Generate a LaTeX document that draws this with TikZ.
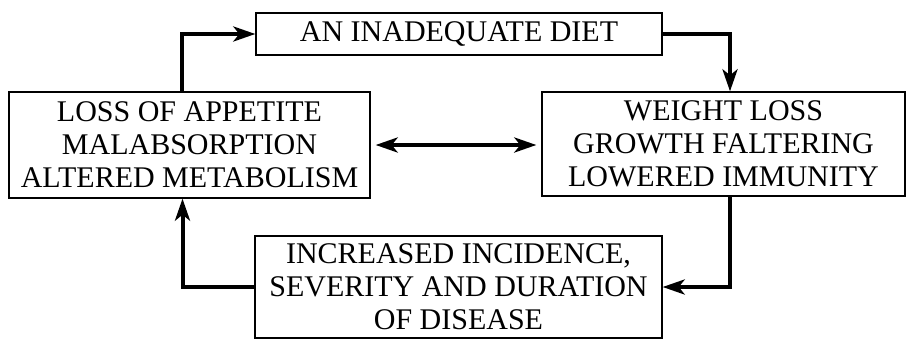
\documentclass[tikz,border=0pt]{standalone}
\usepackage{fontspec}
\setmainfont{Liberation Serif}
\usetikzlibrary{arrows.meta}
\begin{document}
\begin{tikzpicture}[x=1pt,y=-1pt,
  box/.style={draw, line width=1.3pt, align=center, inner sep=0pt,
    font=\fontsize{30}{33}\selectfont},
  tip/.style={Stealth[length=22pt,width=15pt,inset=6pt]},
  arr/.style={line width=4pt, -{Stealth[length=22pt,width=15pt,inset=6pt]}},
  darr/.style={line width=4pt, {Stealth[length=22pt,width=15pt,inset=6pt]}-{Stealth[length=22pt,width=15pt,inset=6pt]}, shorten <=5pt, shorten >=5pt}]
\useasboundingbox (0,0) rectangle (910,340);
\node[box, minimum width=406pt, minimum height=42pt] (T) at (459,34) {AN INADEQUATE DIET};
\node[box, minimum width=361pt, minimum height=106pt] (L) at (189.5,145) {LOSS OF APPETITE\\MALABSORPTION\\ALTERED METABOLISM};
\node[box, minimum width=363pt, minimum height=104pt] (R) at (723.5,144) {WEIGHT LOSS\\GROWTH FALTERING\\LOWERED IMMUNITY};
\node[box, minimum width=407pt, minimum height=102pt] (B) at (458.5,287) {INCREASED INCIDENCE,\\SEVERITY AND DURATION\\OF DISEASE};
\draw[arr] ([xshift=-7.5pt]L.north) |- (T.west);
\draw[arr] (T.east) -| ([xshift=6.5pt]R.north);
\draw[arr] ([xshift=6pt]R.south) |- (B.east);
\draw[arr] (B.west) -| ([xshift=-7pt]L.south);
\draw[darr] (L.east) -- (R.west |- L.east);
\end{tikzpicture}
\end{document}
